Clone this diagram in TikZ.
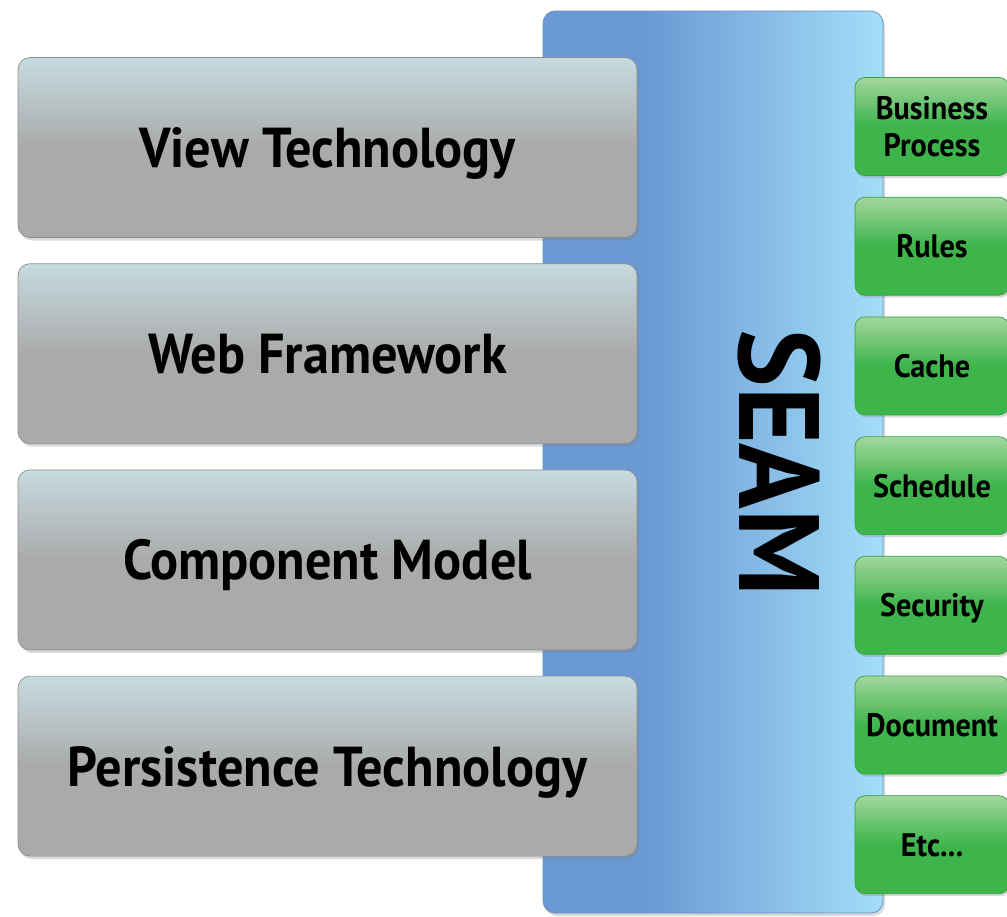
\documentclass[tikz,border=0pt]{standalone}
\usepackage{fontspec}
\setmainfont{PT Sans}
\newfontfamily\boxfont{PT Sans}[BoldFeatures={FakeStretch=0.93}]
\newfontfamily\seamfont{PT Sans}[BoldFeatures={FakeStretch=0.95}]
\usepackage{tikz}
\usetikzlibrary{positioning,shadows}

\definecolor{barleft}{HTML}{6A99D3}
\definecolor{barright}{HTML}{A3DEF9}
\definecolor{barline}{HTML}{6C8FBE}
\definecolor{graytop}{HTML}{C6DBE0}
\definecolor{graybot}{HTML}{AAAAAA}
\definecolor{grayline}{HTML}{8E8E8E}
\definecolor{greentop}{HTML}{A3D6A0}
\definecolor{greenbot}{HTML}{3DB54A}
\definecolor{greenline}{HTML}{35A23E}

\pgfdeclarehorizontalshading{seamshade}{100bp}{color(0bp)=(barleft); color(25bp)=(barleft); color(40bp)=(barleft); color(75bp)=(barright); color(100bp)=(barright)}

\begin{document}
\begin{tikzpicture}[
    node distance=0.51cm,
    layer/.style={rectangle, draw=grayline, rounded corners=0.24cm, minimum width=12.38cm, minimum height=3.6cm, text depth=0pt, top color=graytop, bottom color=graybot, middle color=graybot, align=center, font=\boxfont\bfseries\fontsize{32}{38}\selectfont, drop shadow={shadow xshift=0.04cm, shadow yshift=-0.06cm, opacity=0.3}},
    service/.style={rectangle, draw=greenline, rounded corners=0.2cm, minimum width=3.08cm, minimum height=1.96cm, text depth=0pt, top color=greentop, bottom color=greenbot, middle color=greenbot, align=center, font=\boxfont\bfseries\fontsize{18.5}{21}\selectfont, drop shadow={shadow xshift=0.03cm, shadow yshift=-0.05cm, opacity=0.3}}
]
\useasboundingbox (0,0) rectangle (20.14,-18.32);
\clip (0,0) rectangle (20.14,-18.32);

% the seam bar behind everything
\node[rectangle, draw=barline, rounded corners=0.24cm, shading=seamshade, minimum width=6.8cm, minimum height=18.04cm, drop shadow={shadow xshift=0.04cm, shadow yshift=-0.06cm, opacity=0.3}] (seambar) at (14.26,-9.24) {};
\node[rotate=-90, font=\seamfont\bfseries\fontsize{65}{70}\selectfont] (seamlabel) at (15.58,-9.26) {SEAM};

% layers on the left
\node[layer] (view) at (6.55,-2.95) {View Technology};
\node[layer, below=of view] (web) {Web Framework};
\node[layer, below=of web] (component) {Component Model};
\node[layer, below=of component] (persistence) {Persistence Technology};

% services on the right
\node[service] (bp) at (18.64,-2.53) {Business\\Process};
\node[service, below=0.42cm of bp] (rules) {Rules};
\node[service, below=0.42cm of rules] (cache) {Cache};
\node[service, below=0.42cm of cache] (schedule) {Schedule};
\node[service, below=0.42cm of schedule] (security) {Security};
\node[service, below=0.42cm of security] (document) {Document};
\node[service, below=0.42cm of document] (etc) {Etc...};
\end{tikzpicture}
\end{document}
